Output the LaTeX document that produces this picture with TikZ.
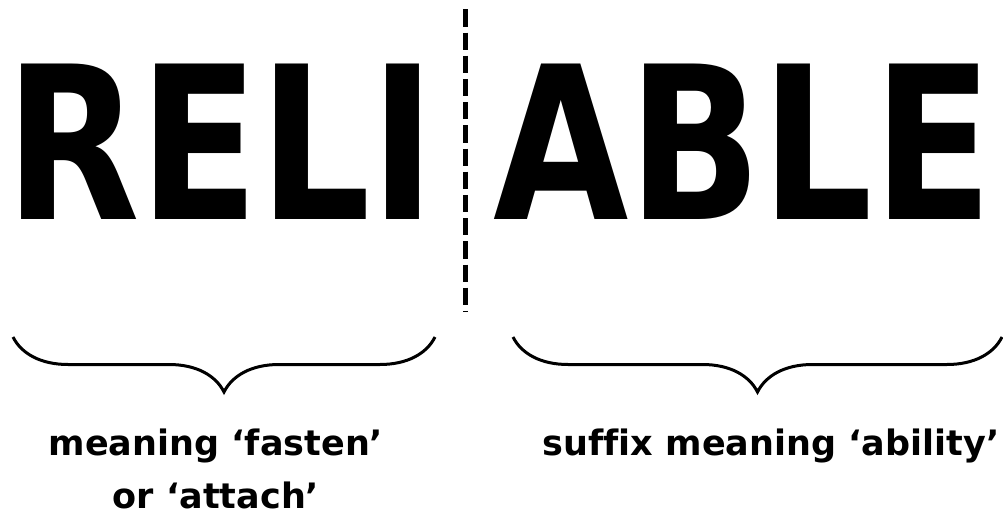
\documentclass[tikz,border=0pt]{standalone}
\usepackage{fontspec}
\setmainfont[Ligatures=NoCommon]{DejaVu Sans}
\newfontfamily\bigword[FakeStretch=0.82]{DejaVu Sans}
\usetikzlibrary{decorations.pathreplacing}

\tikzset{
  word/.style={font=\bigword\bfseries\fontsize{160}{160}\selectfont, inner sep=0pt, anchor=base},
  gloss/.style={font=\bfseries\fontsize{26.25}{39.75}\selectfont, inner sep=0pt, align=center, anchor=base},
  brace/.style={decorate, decoration={brace, mirror, amplitude=41.25pt}, line width=2.25pt},
  cut/.style={line width=3.4pt, dash pattern=on 13pt off 4.4pt}
}

\begin{document}
\begin{tikzpicture}[x=0.75pt, y=-0.75pt]
    \useasboundingbox (0,0) rectangle (1003,521);
    % the two parts of the word
    \node[word] (reli) at (220.5,219) {RELI};
    \node[word] (able) at (743,219) {ABLE};
    % split between them
    \coordinate (cuttop) at (465.5,9.3);
    \coordinate (cutbot) at (465.5,311.7);
    \draw[cut] (cuttop) -- (cutbot);
    % braces under the parts
    \coordinate (rootL) at (13,337);
    \coordinate (rootR) at (435,337);
    \coordinate (sufL) at (513,337);
    \coordinate (sufR) at (1002,337);
    \draw[brace] (rootL) -- (rootR);
    \draw[brace] (sufL) -- (sufR);
    % meanings (base is the last line)
    \node[gloss] (rootmean) at (216,508) {meaning ‘fasten’\\or ‘attach’};
    \node[gloss] (sufmean) at (771,455) {suffix meaning ‘ability’};
  \end{tikzpicture}
\end{document}
